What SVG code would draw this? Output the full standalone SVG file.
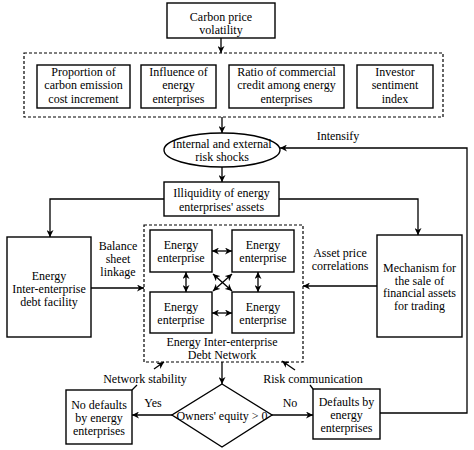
<svg xmlns="http://www.w3.org/2000/svg" width="474" height="450" viewBox="0 0 474 450">
<style>
text{font-family:"Liberation Serif","DejaVu Serif",serif;font-size:12px;fill:#000;text-anchor:middle}
.b{fill:#fff;stroke:#000;stroke-width:1.4}
.d{fill:none;stroke:#000;stroke-width:1.2;stroke-dasharray:3,2}
.c{fill:none;stroke:#000;stroke-width:1.3}
</style>
<defs>
<marker id="a" viewBox="0 0 10 10" refX="10" refY="5" markerWidth="7" markerHeight="7" orient="auto-start-reverse" markerUnits="userSpaceOnUse"><path d="M0,0L10,5L0,10L3,5z" fill="#000"/></marker>
</defs>
<rect width="474" height="450" fill="#fff"/>
<g id="carbon"><rect class="b" x="167" y="3" width="108" height="35"/><text x="221" y="21">Carbon price</text><text x="221" y="34">volatility</text></g>
<g id="factors"><rect class="d" x="24" y="53" width="419" height="64"/>
<rect class="b" x="37" y="65" width="93" height="43"/><text x="83.5" y="76">Proportion of</text><text x="83.5" y="89">carbon emission</text><text x="83.5" y="103">cost increment</text>
<rect class="b" x="141" y="65" width="75" height="43"/><text x="178.5" y="76">Influence of</text><text x="178.5" y="89">energy</text><text x="178.5" y="103">enterprises</text>
<rect class="b" x="229" y="65" width="115" height="43"/><text x="286.5" y="76">Ratio of commercial</text><text x="286.5" y="89">credit among energy</text><text x="286.5" y="103">enterprises</text>
<rect class="b" x="357" y="65" width="76" height="43"/><text x="395" y="76">Investor</text><text x="395" y="89">sentiment</text><text x="395" y="103">index</text></g>
<g id="shocks"><ellipse class="b" cx="222" cy="150" rx="58" ry="17"/><text x="222" y="148">Internal and external</text><text x="222" y="161">risk shocks</text></g>
<g id="illiquidity"><rect class="b" x="164" y="182" width="115" height="34"/><text x="221.5" y="197">Illiquidity of energy</text><text x="221.5" y="211">enterprises' assets</text></g>
<g id="debtfacility"><rect class="b" x="7" y="237" width="84" height="100"/><text x="49" y="280">Energy</text><text x="49" y="293">Inter-enterprise</text><text x="49" y="306">debt facility</text></g>
<g id="mechanism"><rect class="b" x="377" y="235" width="85" height="102"/><text x="419.5" y="272">Mechanism for</text><text x="419.5" y="284.5">the sale of</text><text x="419.5" y="297">financial assets</text><text x="419.5" y="309.5">for trading</text></g>
<g id="network"><rect class="d" x="144" y="225" width="159" height="137"/>
<rect class="b" x="150" y="230" width="62" height="42"/><text x="181" y="248.5">Energy</text><text x="181" y="261.5">enterprise</text>
<rect class="b" x="232" y="230" width="62" height="42"/><text x="263" y="248.5">Energy</text><text x="263" y="261.5">enterprise</text>
<rect class="b" x="150" y="292" width="62" height="41"/><text x="181" y="310.5">Energy</text><text x="181" y="323.5">enterprise</text>
<rect class="b" x="232" y="292" width="62" height="41"/><text x="263" y="310.5">Energy</text><text x="263" y="323.5">enterprise</text>
<text x="222" y="346">Energy Inter-enterprise</text><text x="222" y="359">Debt Network</text></g>
<g id="equity"><path class="b" d="M222,384L272,415L222,447L172,415z"/><text x="222" y="420">Owners' equity &gt; 0</text></g>
<g id="nodefault"><rect class="b" x="66" y="390" width="66" height="54"/><text x="99" y="409">No defaults</text><text x="99" y="422">by energy</text><text x="99" y="435">enterprises</text></g>
<g id="defaults"><rect class="b" x="313" y="389" width="67" height="50"/><text x="346.5" y="406">Defaults by</text><text x="346.5" y="419">energy</text><text x="346.5" y="432">enterprises</text></g>
<g id="connectors">
<path class="c" d="M221,38V53" marker-end="url(#a)"/>
<path class="c" d="M222,117V133" marker-end="url(#a)"/>
<path class="c" d="M222,167V182" marker-end="url(#a)"/>
<path class="c" d="M164,199H50V237" marker-end="url(#a)"/>
<path class="c" d="M279,199H418V235" marker-end="url(#a)"/>
<path class="c" d="M91,288H144" marker-end="url(#a)"/>
<path class="c" d="M377,286H303" marker-end="url(#a)"/>
<path class="c" d="M212,251H232" marker-start="url(#a)" marker-end="url(#a)"/>
<path class="c" d="M212,313H232" marker-start="url(#a)" marker-end="url(#a)"/>
<path class="c" d="M186,272V292" marker-start="url(#a)" marker-end="url(#a)"/>
<path class="c" d="M258,272V292" marker-start="url(#a)" marker-end="url(#a)"/>
<path class="c" d="M213,274L232,291" marker-start="url(#a)" marker-end="url(#a)"/>
<path class="c" d="M232,274L213,291" marker-start="url(#a)" marker-end="url(#a)"/>
<path class="c" d="M222,362V384" marker-end="url(#a)"/>
<path class="c" d="M172,415H132" marker-end="url(#a)"/>
<path class="c" d="M272,415H313" marker-end="url(#a)"/>
<path class="c" d="M380,413H467V148H280" marker-end="url(#a)"/>
<path class="c" d="M154,369L164,362" marker-end="url(#a)"/>
<path class="c" d="M295,370L282,361" marker-end="url(#a)"/>
<path class="c" d="M132,390L137,385"/>
<path class="c" d="M313,389L310,385"/>
</g>
<text x="338" y="140">Intensify</text>
<text x="118" y="250">Balance</text><text x="118" y="263">sheet</text><text x="118" y="276">linkage</text>
<text x="340" y="257">Asset price</text><text x="340" y="270">correlations</text>
<text x="145" y="383">Network stability</text>
<text x="313" y="383">Risk communication</text>
<text x="153" y="407">Yes</text>
<text x="290" y="407">No</text>
</svg>
